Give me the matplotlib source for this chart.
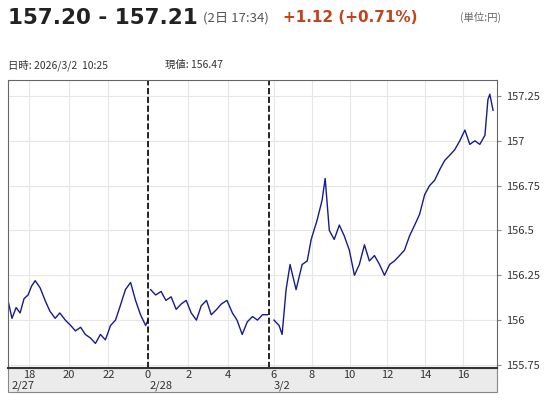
import matplotlib.pyplot as plt
from matplotlib.patches import Rectangle

plt.rcParams['font.family'] = ['Noto Sans CJK JP', 'DejaVu Sans']

# 2/27 evening
h1 = [16.94, 17.14, 17.35, 17.55, 17.75, 17.95, 18.13, 18.31, 18.56, 18.81, 19.05, 19.32,
      19.55, 19.83, 20.1, 20.34, 20.6, 20.84, 21.1, 21.35, 21.6, 21.85, 22.11, 22.36, 22.6,
      22.86, 23.12, 23.37, 23.62, 23.88, 24.0]
v1 = [156.11, 156.01, 156.07, 156.04, 156.12, 156.14, 156.19, 156.22, 156.18, 156.11, 156.05,
      156.01, 156.04, 156.00, 155.97, 155.94, 155.96, 155.92, 155.90, 155.87, 155.92, 155.89,
      155.97, 156.00, 156.08, 156.17, 156.21, 156.11, 156.03, 155.97, 156.00]
# 2/28 early morning
h2 = [0.13, 0.38, 0.65, 0.89, 1.15, 1.4, 1.65, 1.9, 2.15, 2.41, 2.65, 2.91, 3.15, 3.42,
      3.65, 3.93, 4.2, 4.43, 4.69, 4.94, 5.2, 5.45, 5.7, 5.95]
v2 = [156.17, 156.14, 156.16, 156.11, 156.13, 156.06, 156.09, 156.11, 156.04, 156.00, 156.08,
      156.11, 156.03, 156.06, 156.09, 156.11, 156.04, 156.00, 155.92, 155.99, 156.02, 156.00,
      156.03, 156.03]
# 3/2
h3 = [6.0, 6.27, 6.43, 6.64, 6.85, 7.17, 7.49, 7.76, 7.97, 8.29, 8.55, 8.71, 8.93, 9.19,
      9.46, 9.72, 9.99, 10.26, 10.52, 10.79, 11.05, 11.32, 11.59, 11.85, 12.12, 12.38,
      12.65, 12.91, 13.18, 13.45, 13.71, 13.98, 14.24, 14.51, 14.78, 15.04, 15.31, 15.57,
      15.84, 16.11, 16.37, 16.64, 16.9, 17.17, 17.33, 17.43, 17.6]
v3 = [156.00, 155.97, 155.92, 156.17, 156.31, 156.17, 156.31, 156.33, 156.45, 156.56,
      156.67, 156.79, 156.50, 156.45, 156.53, 156.47, 156.39, 156.25, 156.31, 156.42,
      156.33, 156.36, 156.31, 156.25, 156.31, 156.33, 156.36, 156.39, 156.47, 156.53,
      156.59, 156.70, 156.75, 156.78, 156.84, 156.89, 156.92, 156.95, 157.00, 157.06,
      156.98, 157.00, 156.98, 157.03, 157.23, 157.26, 157.17]

y_ticks = [155.75, 156, 156.25, 156.5, 156.75, 157, 157.25]
y_labels = ['155.75', '156', '156.25', '156.5', '156.75', '157', '157.25']


def pos(seg, h):
    if seg == 1:
        return h
    if seg == 2:
        return 24 + h * 1.0125
    return 30.35 + (h - 6) * 0.952


fig = plt.figure(figsize=(5.51, 4), dpi=100)
fig.patches.append(Rectangle((8 / 551, 8 / 400), 489 / 551, 24 / 400, transform=fig.transFigure,
                             facecolor='#ebebeb', edgecolor='#888888', lw=0.8, zorder=-5))
ax = fig.add_axes([8 / 551, 32 / 400, 489 / 551, 288 / 400])

line_c = '#1a1a8c'
ax.plot([pos(1, h) for h in h1], v1, color=line_c, lw=1)
ax.plot([pos(2, h) for h in h2], v2, color=line_c, lw=1)
ax.plot([pos(3, h) for h in h3], v3, color=line_c, lw=1)

xt = [pos(1, h) for h in [18, 20, 22]] + [pos(2, h) for h in [0, 2, 4]] + \
     [pos(3, h) for h in [6, 8, 10, 12, 14, 16]]
xl = ['18', '20', '22', '0', '2', '4', '6', '8', '10', '12', '14', '16']
ax.set_xticks(xt)
ax.set_xticklabels([])
ax.tick_params(axis='x', length=0)
for x, lab in zip(xt, xl):
    ax.text(x, -0.008, lab, transform=ax.get_xaxis_transform(), ha='center', va='top',
            fontsize=8, color='#333333')
for x, lab in [(pos(1, 17.1), '2/27'), (pos(2, 0.1), '2/28'), (pos(3, 6.0), '3/2')]:
    ax.text(x, -0.043, lab, transform=ax.get_xaxis_transform(), ha='left', va='top',
            fontsize=8, color='#333333')

ax.set_yticks(y_ticks)
ax.set_yticklabels(y_labels, fontsize=8)
ax.yaxis.tick_right()
ax.tick_params(axis='y', length=3, color='#888888', labelcolor='#333333')
ax.grid(True, color='#e6e6e6', lw=0.8)
ax.set_axisbelow(True)
ax.set_xlim(16.94, pos(3, 17.81))
ax.set_ylim(155.733, 157.339)

ax.axvline(24, color='black', ls='--', lw=1.2)
ax.axvline(30.1, color='black', ls='--', lw=1.2)
for s in ax.spines.values():
    s.set_color('#666666')
ax.spines['bottom'].set_linewidth(1.5)
ax.spines['bottom'].set_color('#333333')

hdr = ['DejaVu Sans', 'Noto Sans CJK JP']
fig.text(8 / 551, 1 - 18 / 400, '157.20 - 157.21', fontsize=15.5, fontweight='bold',
         color='#222222', va='center', family=hdr)
fig.text(203 / 551, 1 - 18 / 400, '(2日 17:34)', fontsize=9.5, color='#555555', va='center')
fig.text(283 / 551, 1 - 17 / 400, '+1.12 (+0.71%)', fontsize=11, fontweight='bold',
         color='#c0441c', va='center', family=hdr)
fig.text(460 / 551, 1 - 17 / 400, '(単位:円)', fontsize=7.5, color='#666666', va='center')
fig.text(8 / 551, 1 - 65 / 400, '日時: 2026/3/2  10:25', fontsize=7.5, color='#333333', va='center')
fig.text(165 / 551, 1 - 65 / 400, '現値: 156.47', fontsize=7.5, color='#333333', va='center')

fig.savefig('out.png', dpi=100)
